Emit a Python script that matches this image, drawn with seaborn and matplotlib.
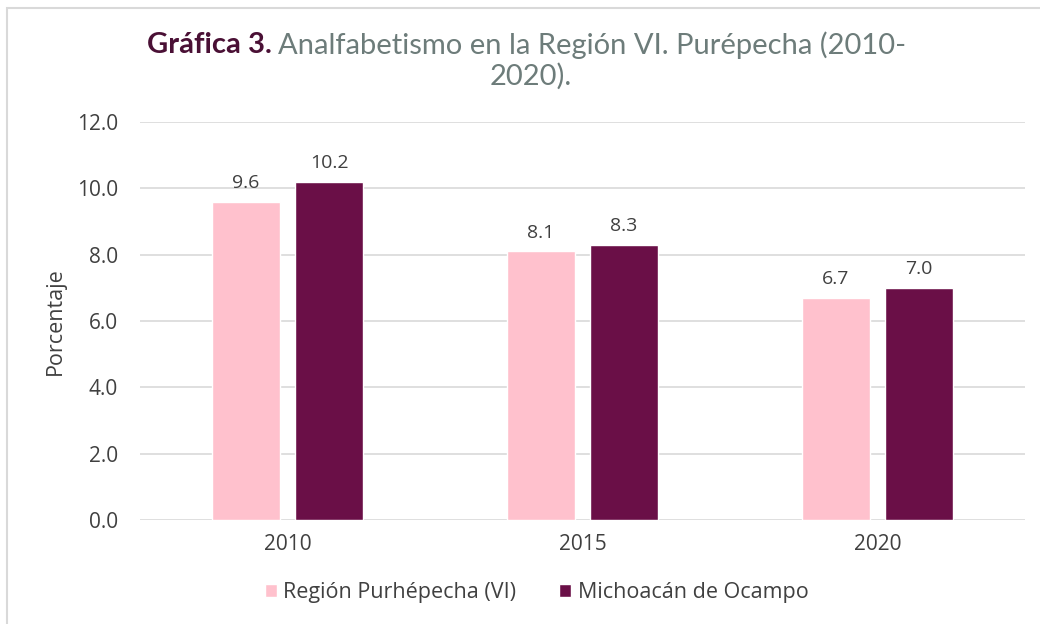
import matplotlib
matplotlib.use("Agg")
import matplotlib.pyplot as plt
import pandas as pd
import seaborn as sns
from matplotlib.patches import Rectangle

# data
years = ["2010", "2015", "2020"]
region = [9.6, 8.1, 6.7]
michoacan = [10.2, 8.3, 7.0]
series_names = ["Región Purhépecha (VI)", "Michoacán de Ocampo"]
colors = ["#FFC1CD", "#6A0F47"]

df = pd.DataFrame({
    "Año": years * 2,
    "Valor": region + michoacan,
    "Serie": [series_names[0]] * 3 + [series_names[1]] * 3,
})

sns.set_style("white")
plt.rcParams["font.family"] = ["Open Sans", "DejaVu Sans"]
text_color = "#404040"

fig = plt.figure(figsize=(10.4, 6.24), dpi=100)
ax = fig.add_axes([0.1346, 0.1667, 0.8510, 0.6378])

sns.barplot(
    data=df, x="Año", y="Valor", hue="Serie",
    palette=colors, saturation=1, width=0.564, gap=0.186,
    errorbar=None, ax=ax, legend=True,
)

# value labels above bars
for cont in ax.containers:
    ax.bar_label(cont, fmt="%.1f", padding=7, fontsize=14, color=text_color)

ax.set_xlim(-0.5, 2.5)
ax.set_ylim(0, 12)
ax.set_yticks([0, 2, 4, 6, 8, 10, 12])
ax.set_yticklabels([f"{v:.1f}" for v in [0, 2, 4, 6, 8, 10, 12]])
ax.yaxis.grid(True, color="#D9D9D9", linewidth=1.2)
ax.set_axisbelow(True)
for s in ax.spines.values():
    s.set_visible(False)
ax.tick_params(axis="y", length=0, labelsize=15, labelcolor=text_color, pad=16)
ax.tick_params(axis="x", length=0, labelsize=15, labelcolor=text_color, pad=10)
ax.set_xlabel("")
ax.set_ylabel("Porcentaje", fontsize=15.5, color=text_color, labelpad=8)

# legend at the bottom
handles, labels = ax.get_legend_handles_labels()
ax.get_legend().remove()
fig.legend(handles, labels, loc="center", bbox_to_anchor=(0.516, 0.05),
           ncol=2, frameon=False, fontsize=15.5, labelcolor=text_color,
           handlelength=0.55, handleheight=0.55, handletextpad=0.3,
           columnspacing=2.0)

# two-colour title
fig.canvas.draw()
renderer = fig.canvas.get_renderer()
t1 = fig.text(0.141, 1 - 45 / 624, "Gráfica 3.", fontsize=21, fontweight="bold",
              color="#4A1035", va="center", ha="left", family=["Lato", "DejaVu Sans"])
bb = t1.get_window_extent(renderer)
fig.text(bb.x1 / fig.bbox.width + 0.006, 1 - 45 / 624,
         "Analfabetismo en la Región VI. Purépecha (2010-",
         fontsize=21, color="#6D7C7A", va="center", ha="left",
         family=["Lato", "DejaVu Sans"])
fig.text(0.51, 1 - 76 / 624, "2020).", fontsize=21, color="#6D7C7A",
         va="center", ha="center", family=["Lato", "DejaVu Sans"])

# light frame round the chart
fig.patches.append(Rectangle((0.007, -0.01), 1.1, 0.997, transform=fig.transFigure,
                             fill=False, edgecolor="#D9D9D9", linewidth=1.5))

fig.savefig("out.png", dpi=100)
